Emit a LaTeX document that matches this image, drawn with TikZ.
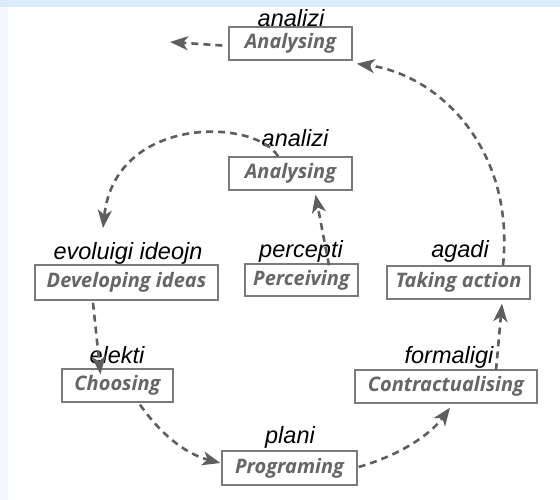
\documentclass[tikz,border=0pt]{standalone}
\usepackage{fontspec}
\setmainfont{Liberation Sans}
\newfontfamily\boxfont{Open Sans}
\usetikzlibrary{arrows.meta}
\definecolor{topblue}{HTML}{DCEBFA}
\definecolor{leftblue}{HTML}{F4F8FD}
\definecolor{boxline}{HTML}{7A7A7A}
\definecolor{boxtext}{HTML}{666666}
\definecolor{dashcol}{HTML}{5E5E5E}
\tikzset{
  stagebox/.style={draw=boxline, line width=1.4pt, inner sep=0pt, text=boxtext,
    font=\boxfont\bfseries\itshape\fontsize{20}{22}\selectfont},
  lbl/.style={anchor=base, inner sep=0pt, font=\itshape\fontsize{23.5}{25}\selectfont},
  flow/.style={draw=dashcol, line width=2.6pt, dash pattern=on 7pt off 5pt,
    -{Stealth[length=18pt,width=14pt,inset=5pt,fill=dashcol]}}
}
\begin{document}
\begin{tikzpicture}[x=1pt,y=-1pt]
\fill[white] (0,0) rectangle (560,500);
\useasboundingbox (0,0) rectangle (560,500);
\fill[topblue] (0,0) rectangle (560,7);
\fill[leftblue] (0,7) rectangle (8,500);

\node[stagebox, minimum width=123pt, minimum height=33pt] (a1) at (290.5,43.5) {Analysing};
\node[stagebox, minimum width=123pt, minimum height=33pt] (a2) at (290.5,173.5) {Analysing};
\node[stagebox, minimum width=113pt, minimum height=32pt] (perc) at (301.5,280) {Perceiving};
\node[stagebox, minimum width=183pt, minimum height=35pt] (dev) at (126.5,282.5) {Developing ideas};
\node[stagebox, minimum width=143pt, minimum height=33pt] (take) at (458.5,282.5) {Taking action};
\node[stagebox, minimum width=111pt, minimum height=33pt] (choose) at (117.5,385.5) {Choosing};
\node[stagebox, minimum width=182pt, minimum height=33pt] (contr) at (446,386.5) {Contractualising};
\node[stagebox, minimum width=135pt, minimum height=34pt] (prog) at (289.5,468) {Programing};

\node[lbl] (l1) at (291,27) {analizi};
\node[lbl] (l2) at (295,147) {analizi};
\node[lbl] (l3) at (301,258) {percepti};
\node[lbl] (l4) at (128,259) {evoluigi ideojn};
\node[lbl] (l5) at (460,257) {agadi};
\node[lbl] (l6) at (117,363) {elekti};
\node[lbl] (l7) at (449,363) {formaligi};
\node[lbl] (l8) at (290,443) {plani};

\coordinate (out) at (170,42);

\draw[flow] ([yshift=-2pt]a1.west) ++(-6,0) -- (out);
\draw[flow] ([xshift=44.5pt]take.north) .. controls (515,150) and (440,75) .. ([xshift=4pt,yshift=-3pt]a1.south east);
\draw[flow] ([xshift=27.5pt,yshift=-2pt]perc.north) -- ([xshift=25pt,yshift=-4pt]a2.south);
\draw[flow] ([xshift=-12.5pt]a2.north) .. controls (255,118) and (115,115) .. (103,228);
\draw[flow] ([xshift=-33.5pt,yshift=-2pt]dev.south) -- ([xshift=-17pt,yshift=-6pt]choose.north);
\draw[flow] ([xshift=22.5pt,yshift=-2pt]choose.south) .. controls (165,440) and (190,455) .. ([yshift=5pt,xshift=-1pt]prog.west);
\draw[flow] ([yshift=1pt,xshift=1pt]prog.east) .. controls (400,455) and (430,435) .. ([xshift=4pt,yshift=-4pt]contr.south);
\draw[flow] ([xshift=50pt,yshift=-1pt]contr.north) -- ([xshift=43.5pt,yshift=-4pt]take.south);
\end{tikzpicture}
\end{document}
